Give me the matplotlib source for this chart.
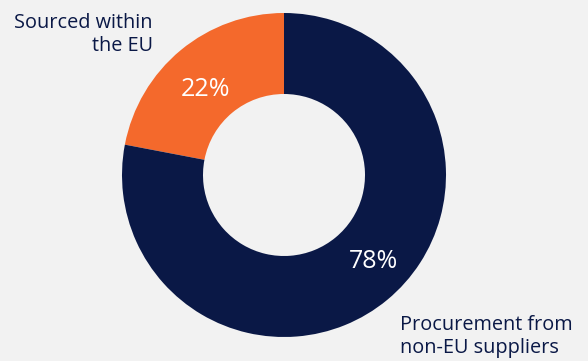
import matplotlib
matplotlib.use("Agg")
import matplotlib.pyplot as plt

categories = ["Sourced within\nthe EU", "Procurement from\nnon-EU suppliers"]
values = [22, 78]
pct_labels = ["22%", "78%"]
colors = ["#F4692C", "#0A1846"]
bg = "#F2F2F2"
text_color = "#0A1846"

plt.rcParams['font.family'] = ['Open Sans', 'DejaVu Sans']

fig = plt.figure(figsize=(5.88, 3.61), dpi=100, facecolor=bg)
ax = fig.add_axes([0, 0, 1, 1])
ax.set_facecolor(bg)

cx, cy, R = 284, 186, 162
wedges, _ = ax.pie(values, colors=colors, startangle=90, counterclock=True,
                   center=(cx, cy), radius=R,
                   wedgeprops=dict(width=R * 0.5, linewidth=0))
ax.set_xlim(0, 588)
ax.set_ylim(0, 361)
ax.set_aspect('equal')
ax.axis('off')

ax.text(206, 271, pct_labels[0], color="white", fontsize=18, ha="center", va="center")
ax.text(374, 99, pct_labels[1], color="white", fontsize=18, ha="center", va="center")

ax.text(153, 326.5, categories[0], color=text_color, fontsize=14.3, ha="right", va="center",
        linespacing=1.25)
ax.text(400, 24.5, categories[1], color=text_color, fontsize=14.3, ha="left", va="center",
        linespacing=1.25)

fig.savefig("out.png", dpi=100, facecolor=bg)
